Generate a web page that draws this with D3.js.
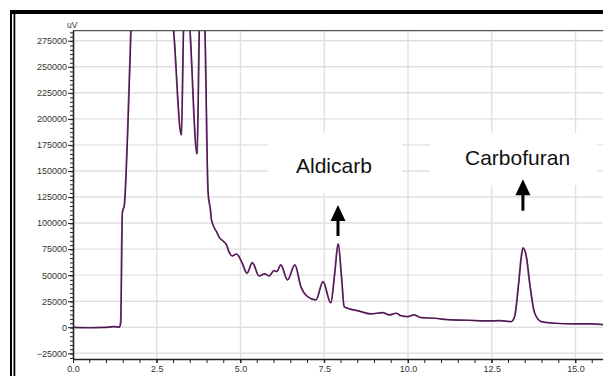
<!DOCTYPE html>
<html><head><meta charset="utf-8">
<script src="https://cdn.jsdelivr.net/npm/d3@7"></script>
<style>body{margin:0;background:#fff}svg{display:block}</style>
</head><body>
<svg id="c" width="603" height="376"></svg>
<script>
// retention time (min)
const times = [0,0.51,0.96,1.2,1.32,1.38,1.42,1.47,1.53,1.62,1.73,1.85,2.3,2.7,3.0,3.23,3.3,3.38,3.48,3.7,3.77,3.83,3.93,4.03,4.1,4.13,4.3,4.35,4.5,4.58,4.65,4.75,4.88,5.05,5.19,5.35,5.55,5.72,5.85,6.0,6.08,6.2,6.4,6.62,6.8,7.0,7.25,7.46,7.69,7.81,7.91,8.02,8.09,8.19,8.49,8.59,8.89,9.24,9.44,9.64,9.79,9.99,10.17,10.39,10.79,11.29,11.79,12.39,12.73,13.08,13.18,13.3,13.38,13.43,13.53,13.63,13.78,13.98,14.38,14.98,15.48,15.9];
// signal (uV)
const signal = [-200,-500,-200,500,300,0,4100,109700,117400,179800,290000,420000,380000,360000,284600,184500,290000,330000,290000,166300,290000,330000,290000,128900,112600,103000,90500,86900,82100,79000,72600,68400,70300,61400,51800,62000,49200,51200,49200,54300,53400,59800,45400,59800,39000,29400,26200,43800,23300,51800,80000,45400,19800,18200,15900,15000,12800,14000,11800,13400,11000,10200,11800,9200,8600,7000,6700,6000,6300,5400,10200,42200,67800,76100,67800,42200,13400,5400,3800,3200,3200,2200];
const yTicks = [-25000,0,25000,50000,75000,100000,125000,150000,175000,200000,225000,250000,275000];
const xTicks = [0.0,2.5,5.0,7.5,10.0,12.5,15.0];
const peakNames = ["Aldicarb","Carbofuran"];
const peakTimes = [7.91,13.43];

const svg = d3.select("#c");
const L=73, T=30.7, R=603, B=359;
const FONT = "Liberation Sans, Arial, sans-serif";
const x = d3.scaleLinear().domain([0,16]).range([L, L+16*33.5]);
const y = d3.scaleLinear().domain([-30500,284600]).range([B,T]);

// outer frame
svg.append("rect").attr("x",10).attr("y",10).attr("width",593).attr("height",4).attr("fill","#000");
svg.append("rect").attr("x",10).attr("y",10).attr("width",2).attr("height",366).attr("fill","#000");
svg.append("rect").attr("x",13.5).attr("y",10).attr("width",1.8).attr("height",366).attr("fill","#000");

// grid
const g = svg.append("g");
g.selectAll(".hg").data(yTicks).enter().append("line")
 .attr("x1",L).attr("x2",R).attr("y1",d=>y(d)).attr("y2",d=>y(d))
 .attr("stroke","#e0e0e0").attr("stroke-width",1.4);
g.selectAll(".vg").data(xTicks.filter(d=>d>0)).enter().append("line")
 .attr("x1",d=>x(d)).attr("x2",d=>x(d)).attr("y1",T).attr("y2",B)
 .attr("stroke","#e0e0e0").attr("stroke-width",1.4);

// label boxes (white backgrounds)
svg.append("rect").attr("x",268).attr("y",133).attr("width",134).attr("height",60).attr("fill","#fff");
svg.append("rect").attr("x",430).attr("y",133).attr("width",167).attr("height",52).attr("fill","#fff");

// top border
svg.append("line").attr("x1",L).attr("x2",R).attr("y1",T).attr("y2",T).attr("stroke","#555").attr("stroke-width",1.2);

// trace
svg.append("defs").append("clipPath").attr("id","clip").append("rect")
 .attr("x",L).attr("y",T).attr("width",R-L).attr("height",B-T);
const data = times.map((t,i)=>[t,signal[i]]);
const line = d3.line().x(d=>x(d[0])).y(d=>y(d[1])).curve(d3.curveMonotoneX);
const tg = svg.append("g").attr("clip-path","url(#clip)");
tg.append("path").datum(data).attr("d",line).attr("fill","none").attr("stroke","#7a2d7c").attr("stroke-width",1.7);
tg.append("path").datum(data).attr("d",line).attr("fill","none").attr("stroke","#1a0a1c").attr("stroke-width",0.6).attr("transform","translate(0.4,0)");

// axes
const ya = d3.axisLeft(y).tickValues(yTicks).tickSize(5).tickFormat(d3.format("d"));
const yAx = svg.append("g").attr("transform",`translate(${L},0)`).call(ya);
const minorY = d3.range(-30000, 284600, 25000/6).filter(v=>v>=-30500);
svg.append("g").selectAll("line").data(minorY).enter().append("line")
 .attr("x1",L-3).attr("x2",L).attr("y1",d=>y(d)).attr("y2",d=>y(d)).attr("stroke","#222").attr("stroke-width",1);
const xa = d3.axisBottom(x).tickValues(xTicks).tickSize(4).tickFormat(d3.format(".1f"));
const xAx = svg.append("g").attr("transform",`translate(0,${B})`).call(xa);
const minorX = d3.range(0.5,16,0.5);
svg.append("g").selectAll("line").data(minorX).enter().append("line")
 .attr("x1",d=>x(d)).attr("x2",d=>x(d)).attr("y1",B).attr("y2",B+4).attr("stroke","#222").attr("stroke-width",1);
[yAx,xAx].forEach(a=>{
  a.select(".domain").attr("stroke","#222").attr("stroke-width",1.6);
  a.selectAll(".tick line").attr("stroke","#222").attr("stroke-width",1);
  a.selectAll("text").attr("font-family",FONT).attr("font-size","9px").attr("fill","#333");
});
yAx.select(".domain").attr("d",`M0.5,${B}V${T}`);
xAx.select(".domain").attr("d",`M${L},0.5H${R}`);
yAx.selectAll("text").attr("x",-6);
xAx.selectAll("text").attr("y",7);

svg.append("text").attr("x",67).attr("y",28).text("uV")
 .attr("font-family",FONT).attr("font-size","8.5px").attr("fill","#333");

// annotations
const labelPos = [[296,172.7],[465,165]];
const arrowPos = [[205,236],[179.3,210.7]];
peakNames.forEach((n,i)=>{
  svg.append("text").attr("x",labelPos[i][0]).attr("y",labelPos[i][1]).text(n)
   .attr("font-family",FONT).attr("font-size","21px").attr("fill","#111");
  const ax = x(peakTimes[i]);
  const top = arrowPos[i][0], bot = arrowPos[i][1];
  svg.append("line").attr("x1",ax).attr("x2",ax).attr("y1",top+12).attr("y2",bot).attr("stroke","#000").attr("stroke-width",3);
  svg.append("path").attr("d",`M${ax},${top}L${ax-7.5},${top+16}L${ax+7.5},${top+16}Z`).attr("fill","#000");
});
</script>
</body></html>
